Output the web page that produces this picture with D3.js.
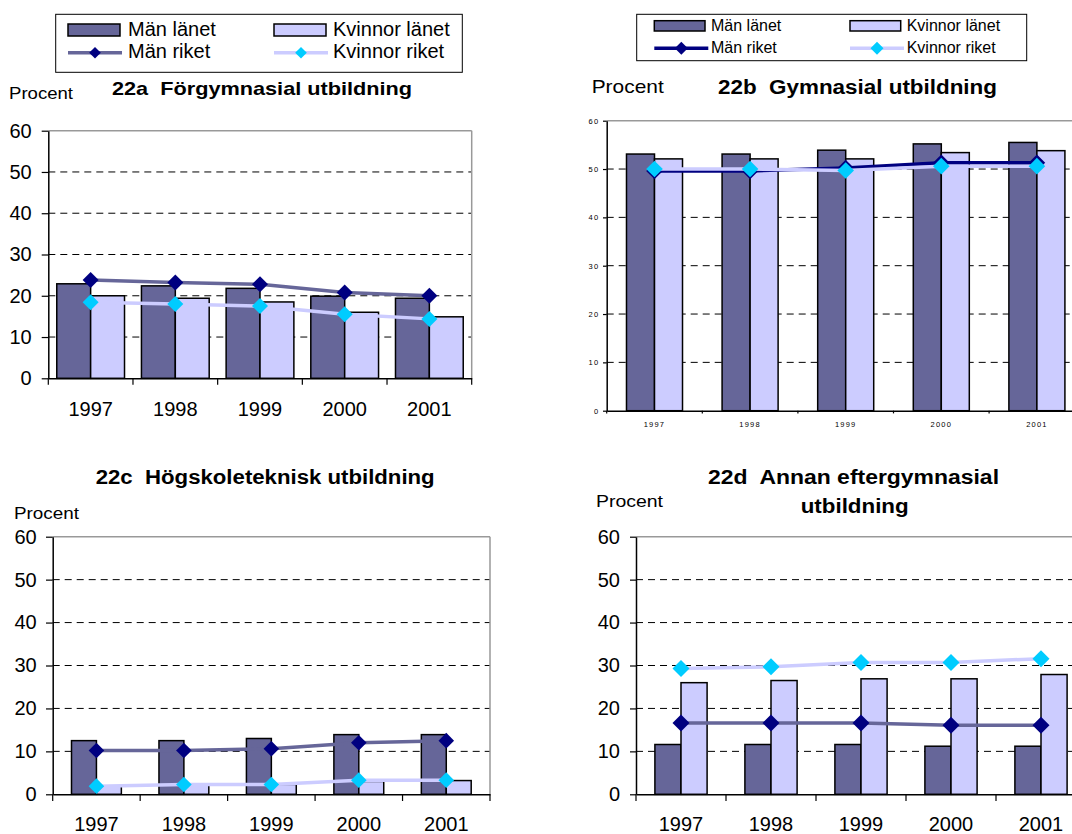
<!DOCTYPE html>
<html><head><meta charset="utf-8">
<script src="https://cdn.jsdelivr.net/npm/d3@7"></script>
<style>
body{margin:0;background:#fff}
svg{display:block}
text{font-family:"Liberation Sans",Arial,Helvetica,sans-serif;fill:#000}
</style>
</head><body>
<svg id="chart" width="1072" height="834"></svg>
<script>
// ---------- data ----------
const years = ["1997","1998","1999","2000","2001"];
const yTicks = [0,10,20,30,40,50,60];
const seriesNames = ["Män länet","Kvinnor länet","Män riket","Kvinnor riket"];

// 22a Förgymnasial utbildning
const aManLanet     = [22.9,22.4,21.8,19.9,19.4];
const aKvinnorLanet = [20.0,19.4,18.5,16.0,14.9];
const aManRiket     = [23.8,23.2,22.8,20.8,20.0];
const aKvinnorRiket = [18.4,18.0,17.5,15.5,14.4];

// 22b Gymnasial utbildning
const bManLanet     = [53.1,53.1,53.9,55.2,55.5];
const bKvinnorLanet = [52.1,52.1,52.1,53.4,53.8];
const bManRiket     = [49.6,49.6,50.2,51.3,51.3];
const bKvinnorRiket = [50.0,50.0,49.7,50.6,50.6];

// 22c Högskoleteknisk utbildning
const cManLanet     = [12.5,12.5,13.0,13.9,13.9];
const cKvinnorLanet = [1.9,2.3,2.3,3.0,3.2];
const cManRiket     = [10.2,10.2,10.6,12.0,12.5];
const cKvinnorRiket = [1.9,2.3,2.3,3.3,3.3];

// 22d Annan eftergymnasial utbildning
const dManLanet     = [11.6,11.6,11.6,11.2,11.2];
const dKvinnorLanet = [26.0,26.5,26.9,26.9,27.9];
const dManRiket     = [16.6,16.6,16.6,16.1,16.1];
const dKvinnorRiket = [29.3,29.7,30.7,30.7,31.6];

// ---------- styles ----------
const C_DARK = "#666699", C_LIGHT = "#ccccff", C_NAVY = "#000080", C_CYAN = "#00ccff";

const svg = d3.select("#chart");

function diamond(h){ return `M0,${-h}L${h},0L0,${h}L${-h},0Z`; }

const panels = [
  { titles:[{t:"22a  Förgymnasial utbildning",x:112,y:95,w:300}], tfs:19,
    procent:{x:9,y:99,w:64,fs:17},
    data:[aManLanet,aKvinnorLanet,aManRiket,aKvinnorRiket], manLine:C_DARK,
    x0:48.3,x1:471.7,yTop:130.7,yBot:378.3,pad:0.2,
    fs:20, ls:0, yLabelRight:31.7, ytl:6.6, xtl:6.5, xBase:416, dh:8, lw:3.5 },
  { titles:[{t:"22b  Gymnasial utbildning",x:718,y:94,w:279}], tfs:20,
    procent:{x:591.7,y:92.7,w:72,fs:19},
    data:[bManLanet,bKvinnorLanet,bManRiket,bKvinnorRiket], manLine:C_NAVY,
    x0:606.7,x1:1084.7,yTop:120.7,yBot:410.7,pad:0.414,
    fs:7.5, ls:1.2, yLabelRight:599.3, ytl:3.7, xtl:2.7, xBase:427.3, dh:8.3, lw:3.5 },
  { titles:[{t:"22c  Högskoleteknisk utbildning",x:95.7,y:484.3,w:339}], tfs:20,
    procent:{x:14,y:519,w:65,fs:17},
    data:[cManLanet,cKvinnorLanet,cManRiket,cKvinnorRiket], manLine:C_DARK,
    x0:52.7,x1:490,yTop:536.7,yBot:794.3,pad:0.43,
    fs:20, ls:0, yLabelRight:36.7, ytl:6.7, xtl:6.7, xBase:831.5, dh:7.8, lw:3.5 },
  { titles:[{t:"22d  Annan eftergymnasial",x:708,y:484.3,w:291},{t:"utbildning",x:800.7,y:513.3,w:108}], tfs:20,
    procent:{x:596,y:507.3,w:67,fs:17},
    data:[dManLanet,dKvinnorLanet,dManRiket,dKvinnorRiket], manLine:C_DARK,
    x0:636,x1:1086,yTop:536.7,yBot:794.3,pad:0.42,
    fs:20, ls:0, yLabelRight:620, ytl:6,  xtl:6.7, xBase:831.5, dh:8.5, lw:3.5 }
];

panels.forEach(p => {
  const g = svg.append("g");
  const x = d3.scaleBand().domain(years).range([p.x0,p.x1]).paddingInner(p.pad).paddingOuter(p.pad/2);
  const xs = d3.scaleBand().domain([0,1]).range([0,x.bandwidth()]);
  const y = d3.scaleLinear().domain([0,60]).range([p.yBot,p.yTop]);

  // titles
  p.titles.forEach(t => {
    g.append("text").attr("x",t.x).attr("y",t.y).attr("font-size",p.tfs).attr("font-weight","bold")
      .style("white-space","pre").attr("textLength",t.w).attr("lengthAdjust","spacingAndGlyphs").text(t.t);
  });
  g.append("text").attr("x",p.procent.x).attr("y",p.procent.y).attr("font-size",p.procent.fs)
    .attr("textLength",p.procent.w).attr("lengthAdjust","spacingAndGlyphs").text("Procent");

  // gridlines
  g.append("g").selectAll("line").data(yTicks.filter(t=>t>0 && t<60)).join("line")
    .attr("x1",p.x0).attr("x2",p.x1).attr("y1",d=>y(d)).attr("y2",d=>y(d))
    .attr("stroke","#000").attr("stroke-width",1).attr("stroke-dasharray","7,5");
  // top & right border
  g.append("line").attr("x1",p.x0).attr("x2",p.x1).attr("y1",y(60)).attr("y2",y(60)).attr("stroke","#999").attr("stroke-width",1.5);
  g.append("line").attr("x1",p.x1).attr("x2",p.x1).attr("y1",y(60)).attr("y2",y(0)).attr("stroke","#999").attr("stroke-width",1.5);

  // bars
  [0,1].forEach(s => {
    g.append("g").selectAll("rect").data(p.data[s]).join("rect")
      .attr("x",(d,i)=>x(years[i])+xs(s)).attr("width",xs.bandwidth())
      .attr("y",d=>y(d)).attr("height",d=>y(0)-y(d))
      .attr("fill", s===0?C_DARK:C_LIGHT).attr("stroke","#000").attr("stroke-width",1.5);
  });

  // y axis
  const ya = d3.axisLeft(y).tickValues(yTicks).tickSizeInner(p.ytl).tickSizeOuter(0)
    .tickPadding(p.x0 - p.ytl - p.yLabelRight);
  const yg = g.append("g").attr("transform",`translate(${p.x0},0)`).call(ya);
  yg.select(".domain").attr("stroke","#000").attr("stroke-width",1.5);
  yg.selectAll(".tick line").attr("stroke","#000").attr("stroke-width",1.2);
  yg.selectAll("text").attr("font-size",p.fs).attr("font-family",null).attr("letter-spacing",p.ls||null).attr("fill","#000");

  // x axis (labels through band scale)
  const xa = d3.axisBottom(x).tickSize(0).tickSizeOuter(0);
  const xg = g.append("g").attr("transform",`translate(0,${p.yBot})`).call(xa);
  xg.select(".domain").attr("stroke","#000").attr("stroke-width",1.5);
  xg.selectAll("text").attr("y",p.xBase - p.yBot).attr("dy",0).attr("font-size",p.fs)
    .attr("font-family",null).attr("letter-spacing",p.ls||null).attr("fill","#000");
  // category boundary ticks
  g.append("g").selectAll("line").data(d3.range(years.length+1)).join("line")
    .attr("x1",i=>p.x0+i*x.step()).attr("x2",i=>p.x0+i*x.step())
    .attr("y1",p.yBot).attr("y2",p.yBot+p.xtl).attr("stroke","#000").attr("stroke-width",1.2);

  // lines with markers
  const cx = (i)=>x(years[i])+x.bandwidth()/2;
  const line = d3.line().x((d,i)=>cx(i)).y(d=>y(d));
  [[2,p.manLine,C_NAVY],[3,C_LIGHT,C_CYAN]].forEach(([s,lc,mc]) => {
    g.append("path").datum(p.data[s]).attr("d",line).attr("fill","none")
      .attr("stroke",lc).attr("stroke-width",p.lw).attr("stroke-linejoin","round");
    g.append("g").selectAll("path").data(p.data[s]).join("path")
      .attr("transform",(d,i)=>`translate(${cx(i)},${y(d)})`)
      .attr("d",diamond(p.dh)).attr("fill",mc);
  });
});

// ---------- legends ----------
const legends = [
  {x:55.7,y:14.3,w:406.6,h:58,fs:20,manLine:C_DARK,cols:[68,274],textX:[128,333],
   rectY:24,rectH:12,rectW:52,row1:36,lineY:52.7,row2:58,lineW:54,dh:5.8},
  {x:636.7,y:14.3,w:390,h:46.4,fs:16,manLine:C_NAVY,cols:[654.3,850],textX:[711,906.7],
   rectY:20.7,rectH:10.3,rectW:50.7,row1:31,lineY:48.3,row2:53,lineW:54,dh:6.5}
];
legends.forEach(L => {
  const g = svg.append("g");
  g.append("rect").attr("x",L.x).attr("y",L.y).attr("width",L.w).attr("height",L.h)
    .attr("fill","#fff").attr("stroke","#000").attr("stroke-width",1);
  [0,1].forEach(s => {
    g.append("rect").attr("x",L.cols[s]).attr("y",L.rectY).attr("width",L.rectW).attr("height",L.rectH)
      .attr("fill",s===0?C_DARK:C_LIGHT).attr("stroke","#000").attr("stroke-width",1.5);
    g.append("text").attr("x",L.textX[s]).attr("y",L.row1).attr("font-size",L.fs).text(seriesNames[s]);
  });
  [[2,L.manLine,C_NAVY],[3,C_LIGHT,C_CYAN]].forEach(([s,lc,mc],k) => {
    const cx0 = L.cols[k];
    g.append("line").attr("x1",cx0).attr("x2",cx0+L.lineW).attr("y1",L.lineY).attr("y2",L.lineY)
      .attr("stroke",lc).attr("stroke-width",3.5);
    g.append("path").attr("transform",`translate(${cx0+L.lineW/2},${L.lineY})`).attr("d",diamond(L.dh)).attr("fill",mc);
    g.append("text").attr("x",L.textX[k]).attr("y",L.row2).attr("font-size",L.fs).text(seriesNames[s]);
  });
});
</script>
</body></html>
